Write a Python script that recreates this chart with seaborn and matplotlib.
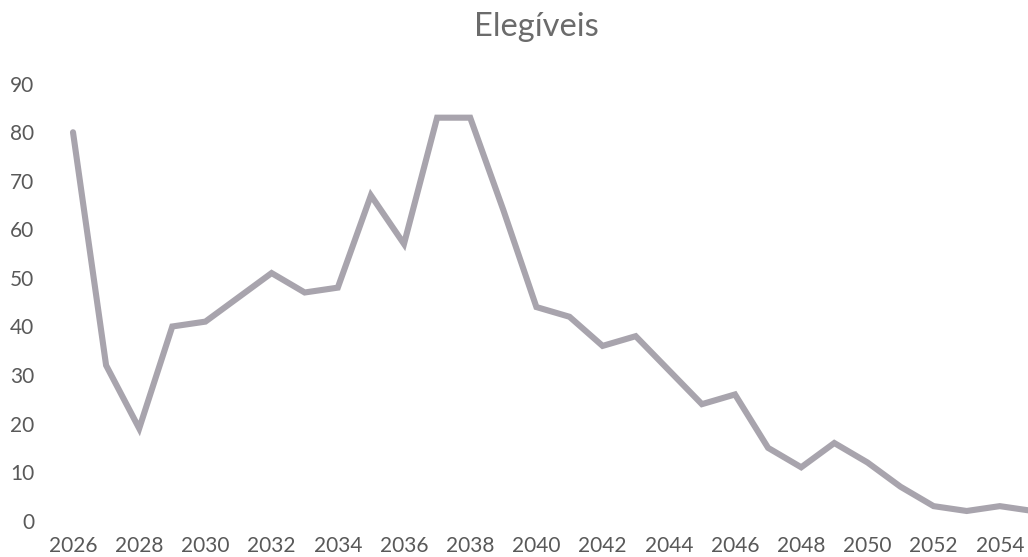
import matplotlib
matplotlib.use("Agg")
import matplotlib.pyplot as plt
import seaborn as sns
import pandas as pd

years = list(range(2026, 2056))
values = [80, 32, 19, 40, 41, 46, 51, 47, 48, 67, 57, 83, 83, 64, 44, 42, 36, 38, 31, 24,
          26, 15, 11, 16, 12, 7, 3, 2, 3, 2]
y_ticks = [0, 10, 20, 30, 40, 50, 60, 70, 80, 90]
x_ticks = list(range(2026, 2055, 2))
title = "Elegíveis"

sns.set_theme(style="white")
plt.rcParams['font.family'] = ['Lato', 'DejaVu Sans']

W, H = 1028, 557
fig = plt.figure(figsize=(W / 100, H / 100), dpi=100)
# axes box in pixels
left_px, right_px = 56, 1028
top_px, bottom_px = 83.7, 520.7
ax = fig.add_axes([left_px / W, 1 - bottom_px / H, (right_px - left_px) / W, (bottom_px - top_px) / H])

df = pd.DataFrame({"Ano": years, "Elegíveis": values})
sns.lineplot(data=df, x="Ano", y="Elegíveis", ax=ax, color="#a8a4ad", linewidth=4.4,
             solid_joinstyle="miter", clip_on=True)

px_per_year = 33.1
x0 = 2026 - (73 - left_px) / px_per_year
x1 = 2026 + (right_px - 73) / px_per_year
ax.set_xlim(x0, x1)
ax.set_ylim(0, 90)
ax.set_xticks(x_ticks)
ax.set_xticklabels([str(t) for t in x_ticks])
ax.set_yticks(y_ticks)
ax.set_xlabel("")
ax.set_ylabel("")
for s in ax.spines.values():
    s.set_visible(False)
ax.tick_params(axis="both", length=0, labelsize=15, colors="#595959")
ax.tick_params(axis="y", pad=15.5)
ax.tick_params(axis="x", pad=11)
ax.grid(False)

fig.text(536 / W, 1 - 27 / H, title, ha="center", va="center", fontsize=23.5, color="#6b6b6b")

fig.savefig("out.png", dpi=100, facecolor="white")
